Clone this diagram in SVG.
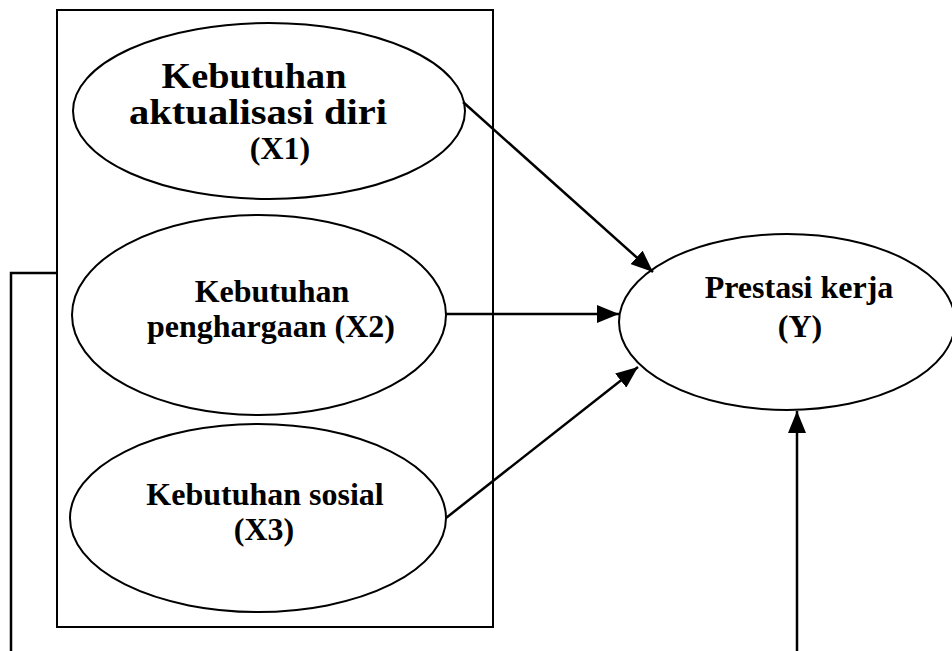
<svg xmlns="http://www.w3.org/2000/svg" width="952" height="651" viewBox="0 0 952 651">
<defs>
<style>
.shape{fill:#fff;stroke:#000;stroke-width:2}
.lbl{font-family:"Liberation Serif","Times New Roman",serif;font-weight:bold;font-size:32px;fill:#000;text-anchor:middle}
.big{font-size:35px}
.con{fill:none;stroke:#000;stroke-width:2.5}
</style>
<marker id="arr" markerUnits="userSpaceOnUse" markerWidth="22" markerHeight="18" viewBox="0 0 22 18" refX="22" refY="9" orient="auto">
<path d="M0,0 L22,9 L0,18 Z" fill="#000"/>
</marker>
</defs>
<rect id="frame" x="57" y="10" width="436" height="617" fill="none" stroke="#000" stroke-width="2"/>
<g id="x1">
<ellipse class="shape" cx="269" cy="111" rx="196" ry="88"/>
<text class="lbl big" x="254" y="88" textLength="185" lengthAdjust="spacingAndGlyphs">Kebutuhan</text>
<text class="lbl big" x="258" y="124" textLength="258" lengthAdjust="spacingAndGlyphs">aktualisasi diri</text>
<text class="lbl" x="280" y="159">(X1)</text>
</g>
<g id="x2">
<ellipse class="shape" cx="259" cy="315" rx="187" ry="100"/>
<text class="lbl" x="272" y="302">Kebutuhan</text>
<text class="lbl" x="271" y="337">penghargaan (X2)</text>
</g>
<g id="x3">
<ellipse class="shape" cx="258" cy="518" rx="188" ry="94"/>
<text class="lbl" x="265" y="505">Kebutuhan sosial</text>
<text class="lbl" x="264" y="540">(X3)</text>
</g>
<g id="y">
<ellipse class="shape" cx="787" cy="322" rx="168" ry="88"/>
<text class="lbl" x="799" y="298">Prestasi kerja</text>
<text class="lbl" x="800" y="337">(Y)</text>
</g>
<g id="connectors">
<line class="con" x1="463" y1="102" x2="653" y2="272" marker-end="url(#arr)"/>
<line class="con" x1="446" y1="314" x2="619" y2="314" marker-end="url(#arr)"/>
<line class="con" x1="446" y1="518" x2="638" y2="367" marker-end="url(#arr)"/>
<line class="con" x1="797" y1="651" x2="797" y2="411" marker-end="url(#arr)"/>
<polyline class="con" points="57,273 11,273 11,651" stroke-width="2"/>
</g>
</svg>
